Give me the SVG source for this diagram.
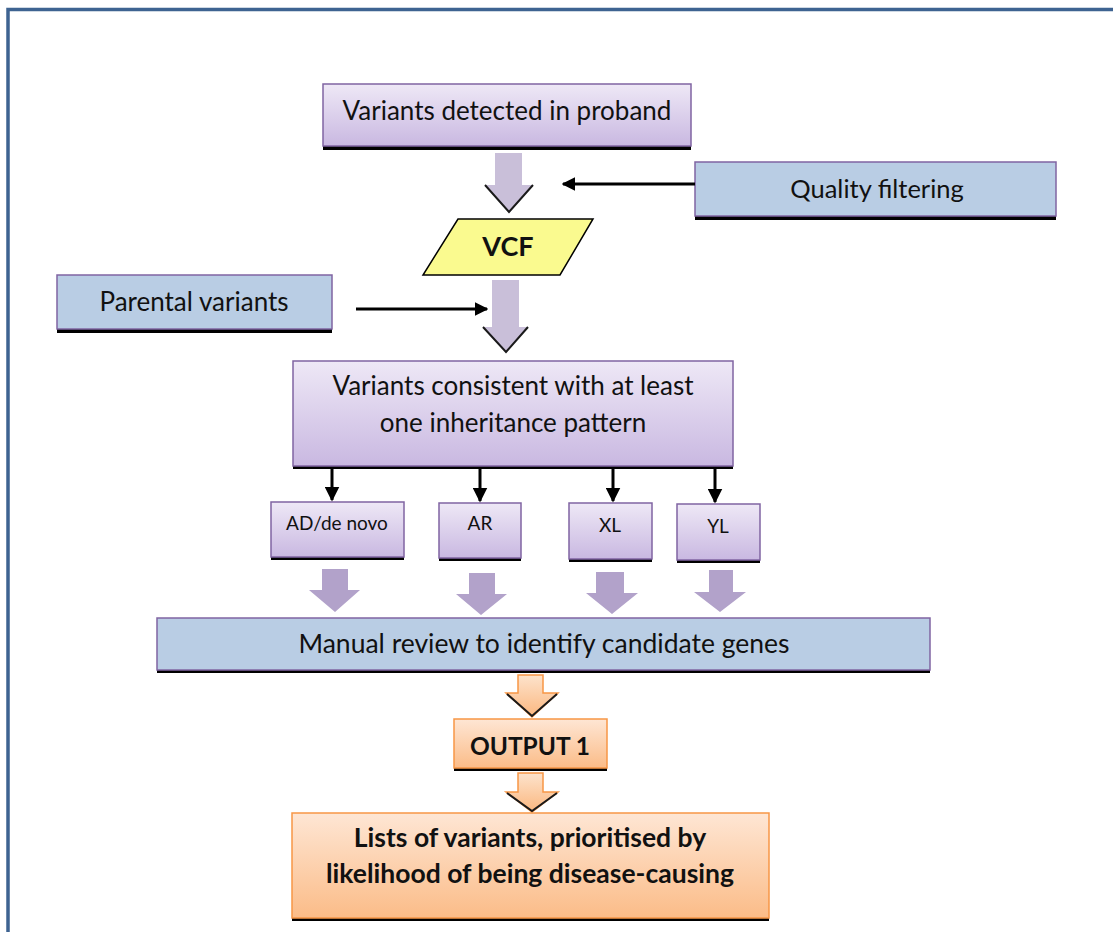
<svg xmlns="http://www.w3.org/2000/svg" width="1113" height="932" viewBox="0 0 1113 932">
  <defs>
    <linearGradient id="gPurple" x1="0" y1="0" x2="0" y2="1">
      <stop offset="0" stop-color="#eee8f6"/>
      <stop offset="1" stop-color="#c9b8e1"/>
    </linearGradient>
    <linearGradient id="gOrange" x1="0" y1="0" x2="0" y2="1">
      <stop offset="0" stop-color="#fee6d4"/>
      <stop offset="1" stop-color="#fbbc88"/>
    </linearGradient>
    <linearGradient id="gOrangeArrow" x1="0" y1="0" x2="0" y2="1">
      <stop offset="0" stop-color="#fde3cc"/>
      <stop offset="1" stop-color="#fbb77f"/>
    </linearGradient>
    <marker id="ah" viewBox="0 0 10 10" refX="9" refY="5" markerWidth="4.5" markerHeight="4.5" orient="auto">
      <path d="M0,0 L10,5 L0,10 z" fill="#000"/>
    </marker>
    <marker id="ahs" viewBox="0 0 10 10" refX="9" refY="5" markerWidth="5" markerHeight="5" orient="auto">
      <path d="M0,0 L10,5 L0,10 z" fill="#000"/>
    </marker>
  </defs>
  <style>
    .lbl { font-family: Lato, "Open Sans", "Liberation Sans", sans-serif; fill: #111; text-anchor: middle; }
    .b { font-weight: bold; }
    .shadow { fill: #000; }
    .pbox { fill: url(#gPurple); stroke: #8064a2; stroke-width: 1.5; }
    .bbox { fill: #b9cde4; stroke: #8064a2; stroke-width: 1.5; }
    .obox { fill: url(#gOrange); stroke: #f79646; stroke-width: 1.5; }
    .conn { stroke: #000; stroke-width: 3; fill: none; }
    .grey { fill: #c9bfd9; }
    .lav { fill: #b2a2ca; }
    .orng { fill: url(#gOrangeArrow); stroke: #f79646; stroke-width: 1.5; }
    .edge { stroke: #1a1a1a; stroke-width: 2; fill: none; }
  </style>

  <rect width="1113" height="932" fill="#fff"/>
  <!-- outer frame -->
  <path d="M8,935 V9.5 H1116" fill="none" stroke="#3e6391" stroke-width="3.5"/>

  <g id="proband">
    <rect class="shadow" x="323" y="88" width="368" height="62"/>
    <rect class="pbox" x="323" y="84" width="368" height="62"/>
    <text class="lbl" x="507" y="120" font-size="26">Variants detected in proband</text>
  </g>

  <g id="quality">
    <rect class="shadow" x="695" y="166" width="361" height="54"/>
    <rect class="bbox" x="695" y="162" width="361" height="54"/>
    <text class="lbl" x="877" y="198" font-size="25.5">Quality filtering</text>
  </g>

  <g id="vcf">
    <polygon points="458,219 593,219 560,275 423,275" fill="#fafa8f" stroke="#000" stroke-width="1.5"/>
    <text class="lbl b" x="508" y="256" font-size="27">VCF</text>
  </g>

  <g id="parental">
    <rect class="shadow" x="57" y="279" width="275" height="54"/>
    <rect class="bbox" x="57" y="275" width="275" height="54"/>
    <text class="lbl" x="194" y="311" font-size="26">Parental variants</text>
  </g>

  <g id="consistent">
    <rect class="shadow" x="293" y="364" width="440" height="105"/>
    <rect class="pbox" x="293" y="361" width="440" height="105"/>
    <text class="lbl" x="513" y="395" font-size="26">Variants consistent with at least</text>
    <text class="lbl" x="513" y="432" font-size="26">one inheritance pattern</text>
  </g>

  <g id="ad">
    <rect class="shadow" x="271" y="505" width="133" height="55"/>
    <rect class="pbox" x="271" y="502" width="133" height="55"/>
    <text class="lbl" x="337" y="530" font-size="19">AD/de novo</text>
  </g>
  <g id="ar">
    <rect class="shadow" x="439" y="506" width="82" height="55"/>
    <rect class="pbox" x="439" y="503" width="82" height="55"/>
    <text class="lbl" x="480" y="530" font-size="19">AR</text>
  </g>
  <g id="xl">
    <rect class="shadow" x="569" y="506" width="83" height="56"/>
    <rect class="pbox" x="569" y="503" width="83" height="56"/>
    <text class="lbl" x="610" y="532" font-size="19">XL</text>
  </g>
  <g id="yl">
    <rect class="shadow" x="677" y="507" width="83" height="56"/>
    <rect class="pbox" x="677" y="504" width="83" height="56"/>
    <text class="lbl" x="718" y="533" font-size="19">YL</text>
  </g>

  <g id="review">
    <rect class="shadow" x="157" y="621" width="773" height="52"/>
    <rect class="bbox" x="157" y="618" width="773" height="52"/>
    <text class="lbl" x="544" y="653" font-size="26.5">Manual review to identify candidate genes</text>
  </g>

  <g id="output1">
    <rect class="shadow" x="454" y="722" width="153" height="49"/>
    <rect class="obox" x="454" y="719" width="153" height="49"/>
    <text class="lbl b" x="530" y="755" font-size="24.5">OUTPUT 1</text>
  </g>

  <g id="lists">
    <rect class="shadow" x="292" y="816" width="477" height="105"/>
    <rect class="obox" x="292" y="813" width="477" height="105"/>
    <text class="lbl b" x="530" y="847" font-size="26.5">Lists of variants, prioritised by</text>
    <text class="lbl b" x="530" y="883" font-size="26.5">likelihood of being disease-causing</text>
  </g>

  <g id="connectors">
    <!-- grey block arrows on the main column -->
    <polygon class="grey" points="495,153 522,153 522,185 533,185 509,213 485,185 495,185"/>
    <polyline class="edge" points="485,185 509,212 533,185"/>
    <polygon class="grey" points="492,280 519,280 519,327 528,327 506,353 483,327 492,327"/>
    <polyline class="edge" points="483,327 506,352 528,327"/>

    <!-- side inputs -->
    <line class="conn" x1="695" y1="184" x2="563" y2="184" marker-end="url(#ah)"/>
    <line class="conn" x1="356" y1="309" x2="487" y2="309" marker-end="url(#ah)"/>

    <!-- split into inheritance patterns -->
    <line class="conn" x1="332" y1="467" x2="332" y2="500" stroke-width="2.5" marker-end="url(#ahs)"/>
    <line class="conn" x1="480" y1="467" x2="480" y2="501" stroke-width="2.5" marker-end="url(#ahs)"/>
    <line class="conn" x1="613" y1="467" x2="613" y2="501" stroke-width="2.5" marker-end="url(#ahs)"/>
    <line class="conn" x1="715" y1="467" x2="715" y2="502" stroke-width="2.5" marker-end="url(#ahs)"/>

    <!-- lavender arrows into manual review -->
    <polygon class="lav" points="322,569 348,569 348,590 360,590 335,612 309,590 322,590"/>
    <polygon class="lav" points="469,573 495,573 495,594 507,594 481,615 456,594 469,594"/>
    <polygon class="lav" points="596,572 624,572 624,593 638,593 612,614 586,593 596,593"/>
    <polygon class="lav" points="709,570 733,570 733,592 746,592 720,612 694,592 709,592"/>

    <!-- orange arrows to outputs -->
    <polygon class="orng" points="518,675 543,675 543,693 558,693 532,717 506,693 518,693"/>
    <polyline class="edge" points="507,694 532,716 557,694"/>
    <polygon class="orng" points="518,773 543,773 543,792 558,792 532,812 506,792 518,792"/>
    <polyline class="edge" points="507,793 532,811 557,793"/>
  </g>
</svg>
